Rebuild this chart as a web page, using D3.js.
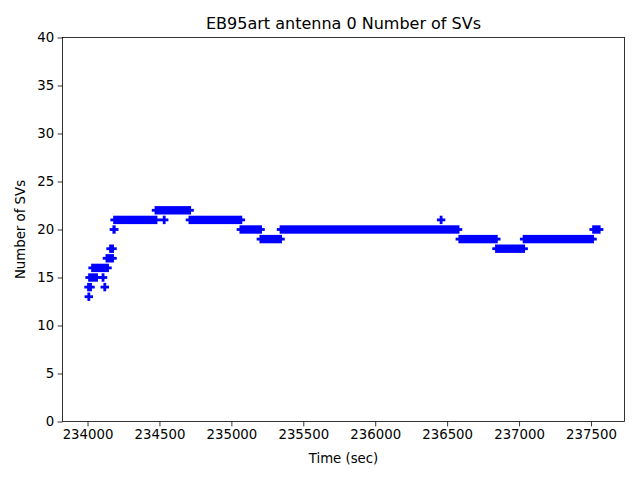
<!DOCTYPE html>
<html>
<head>
<meta charset="utf-8">
<script src="https://cdn.jsdelivr.net/npm/d3@7"></script>
<style>
  html, body { margin: 0; padding: 0; background: #fff; }
  svg { display: block; font-family: "DejaVu Sans", sans-serif; }
</style>
</head>
<body>
<svg id="chart" width="640" height="480"></svg>
<script>
// ---- Data (runs of constant SV count, times in seconds) ----
const runStart = [234009, 234007, 234120, 234014, 234108, 234035, 234135, 234160, 234183, 234188, 234533, 234476, 234712, 235066, 235205, 235345, 236458, 236588, 236843, 237035, 237518];
const runEnd   = [234009, 234021, 234120, 234063, 234108, 234139, 234174, 234174, 234186, 234476, 234533, 234710, 235066, 235203, 235342, 236576, 236458, 236842, 237032, 237511, 237557];
const runValue = [13,     14,     14,     15,     15,     16,     17,     18,     20,     21,     21,     22,     21,     20,     19,     20,     21,     19,     18,     19,     20];

const xTicks = [234000, 234500, 235000, 235500, 236000, 236500, 237000, 237500];
const yTicks = [0, 5, 10, 15, 20, 25, 30, 35, 40];

const titleText = "EB95art antenna 0 Number of SVs";
const xLabel = "Time (sec)";
const yLabel = "Number of SVs";

// ---- Layout ----
const mLeft = 62.5, mRight = 624.5, mTop = 37.5, mBottom = 421.5;
const ms = 8.4, mew = 2.8, color = "#0000ff";

const svg = d3.select("#chart");
const x = d3.scaleLinear().domain([233826, 237733]).range([mLeft, mRight]);
const y = d3.scaleLinear().domain([0, 40]).range([mBottom, mTop]);

// ---- Marks: dense '+' markers merged into runs ----
const runs = runStart.map((s, i) => ({ s, e: runEnd[i], v: runValue[i] }));
const g = svg.append("g");
g.selectAll("rect.v").data(runs).enter().append("rect")
  .attr("class", "v")
  .attr("x", d => x(d.s) - mew / 2)
  .attr("width", d => x(d.e) - x(d.s) + mew)
  .attr("y", d => y(d.v) - ms / 2)
  .attr("height", ms)
  .attr("fill", color);
g.selectAll("rect.h").data(runs).enter().append("rect")
  .attr("class", "h")
  .attr("x", d => x(d.s) - ms / 2)
  .attr("width", d => x(d.e) - x(d.s) + ms)
  .attr("y", d => y(d.v) - mew / 2)
  .attr("height", mew)
  .attr("fill", color);

// ---- Axes ----
const xAxis = d3.axisBottom(x).tickValues(xTicks).tickSize(4.9).tickPadding(3.5).tickFormat(d3.format("d"));
const yAxis = d3.axisLeft(y).tickValues(yTicks).tickSize(4.9).tickPadding(3.5).tickFormat(d3.format("d"));

const gx = svg.append("g").attr("transform", `translate(0,${mBottom})`).call(xAxis);
const gy = svg.append("g").attr("transform", `translate(${mLeft},0)`).call(yAxis);
[gx, gy].forEach(a => {
  a.select(".domain").remove();
  a.selectAll(".tick line").attr("stroke", "#000").attr("stroke-width", 0.8);
  a.selectAll(".tick text").attr("fill", "#000").attr("font-size", "13.3px")
    .attr("font-family", "DejaVu Sans, sans-serif");
});

svg.append("rect")
  .attr("x", mLeft).attr("y", mTop)
  .attr("width", mRight - mLeft).attr("height", mBottom - mTop)
  .attr("fill", "none").attr("stroke", "#000").attr("stroke-width", 0.8);

// ---- Text ----
svg.append("text")
  .attr("x", (mLeft + mRight) / 2).attr("y", 29)
  .attr("text-anchor", "middle").attr("font-size", "16px").attr("fill", "#000")
  .text(titleText);
svg.append("text")
  .attr("x", (mLeft + mRight) / 2).attr("y", 463)
  .attr("text-anchor", "middle").attr("font-size", "13.3px").attr("fill", "#000")
  .text(xLabel);
svg.append("text")
  .attr("transform", `translate(25,${(mTop + mBottom) / 2}) rotate(-90)`)
  .attr("text-anchor", "middle").attr("font-size", "13.3px").attr("fill", "#000")
  .text(yLabel);
</script>
</body>
</html>
